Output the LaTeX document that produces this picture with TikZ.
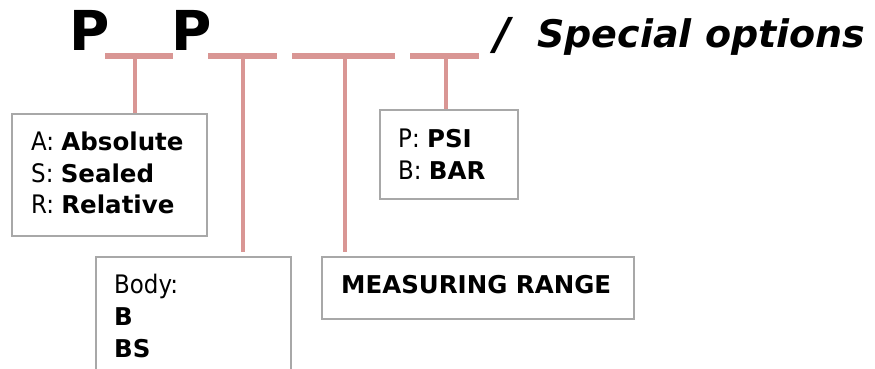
\documentclass[tikz,border=0pt]{standalone}
\usepackage{fontspec}
\setmainfont{DejaVu Sans}
\newfontfamily\condfont{DejaVu Sans Condensed}
\newcommand\bt[1]{{\normalfont\fontsize{24.5}{28}\selectfont\bfseries #1}}
\definecolor{pinkline}{HTML}{D99694}
\definecolor{boxgray}{HTML}{A8A8A8}
\begin{document}
\begin{tikzpicture}[x=1pt,y=-1pt,
  bar/.style={draw=pinkline,line width=5.5pt},
  stem/.style={draw=pinkline,line width=3.8pt},
  optbox/.style={draw=boxgray,line width=2pt,rectangle,inner sep=0pt,anchor=north west},
  txt/.style={anchor=base west,inner sep=0pt,font=\condfont\fontsize{25.5}{28}\selectfont},
  big/.style={anchor=base west,inner sep=0pt,font=\fontsize{55}{60}\selectfont\bfseries},
  title/.style={anchor=base west,inner sep=0pt,font=\fontsize{38}{42}\selectfont\bfseries\itshape}]
\useasboundingbox (0,0) rectangle (875,368);
\clip (0,0) rectangle (875,368);
% title
\node[big] (p1) at (69,50) {P};
\node[big] (p2) at (171,50) {P};
\node[title,font=\fontsize{44}{48}\selectfont\bfseries\itshape] (slash) at (494,49) {/};
\node[title] (special) at (537,47) {Special options};
% underline bars
\coordinate (b1l) at (105,56); \coordinate (b1r) at (173,56);
\coordinate (b2l) at (208,56); \coordinate (b2r) at (277,56);
\coordinate (b3l) at (292,56); \coordinate (b3r) at (395,56);
\coordinate (b4l) at (410,56); \coordinate (b4r) at (479,56);
\draw[bar] (b1l) -- (b1r);
\draw[bar] (b2l) -- (b2r);
\draw[bar] (b3l) -- (b3r);
\draw[bar] (b4l) -- (b4r);
\coordinate (s1) at (135,56);
\coordinate (s2) at (243,56);
\coordinate (s3) at (345,56);
\coordinate (s4) at (446,56);
% boxes
\node[optbox,minimum width=195pt,minimum height=122pt] (boxA) at (11,113) {};
\node[optbox,minimum width=195pt,minimum height=140pt] (boxB) at (95,256) {};
\node[optbox,minimum width=138pt,minimum height=89pt] (boxP) at (379,109) {};
\node[optbox,minimum width=312pt,minimum height=62pt] (boxM) at (321,256) {};
% stems
\draw[stem] (s1) -- (s1 |- boxA.north);
\draw[stem] (s2) -- ([yshift=4pt]s2 |- boxB.north);
\draw[stem] (s3) -- ([yshift=4pt]s3 |- boxM.north);
\draw[stem] (s4) -- (s4 |- boxP.north);
% texts
\node[txt] (a1) at (31,150) {A: \bt{Absolute}};
\node[txt] (a2) at (31,182) {S: \bt{Sealed}};
\node[txt] (a3) at (31,213) {R: \bt{Relative}};
\node[txt] (t1) at (114,293) {Body:};
\node[txt] (t2) at (114,325) {\bt{B}};
\node[txt] (t3) at (114,357) {\bt{BS}};
\node[txt] (u1) at (398,147) {P: \bt{PSI}};
\node[txt] (u2) at (398,179) {B: \bt{BAR}};
\node[txt] (m1) at (341,293) {\bt{MEASURING RANGE}};
\end{tikzpicture}
\end{document}
